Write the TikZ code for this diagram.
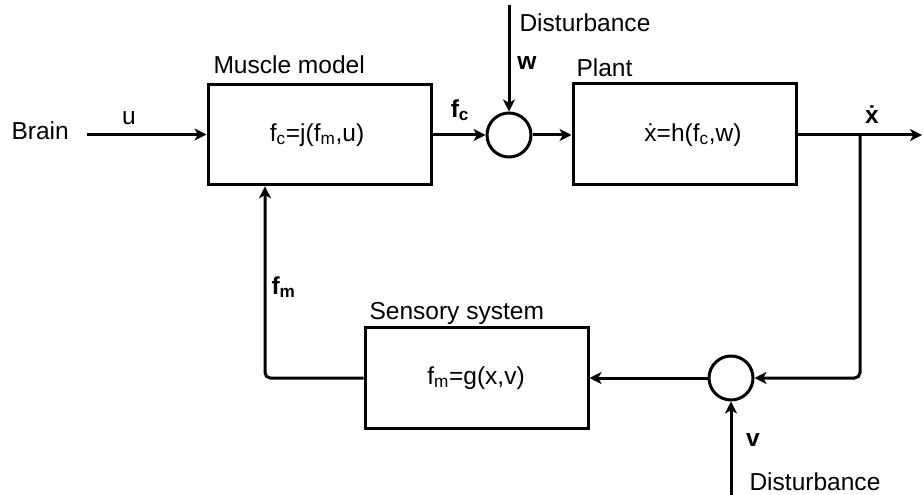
\documentclass[tikz,border=0pt]{standalone}
\usepackage{fontspec}
\setmainfont{Liberation Sans}
\usetikzlibrary{arrows.meta}
\begin{document}
\begin{tikzpicture}[x=0.75pt,y=-0.75pt,
  font=\fontsize{18.4}{22}\selectfont,
  line width=2.25pt,
  blk/.style={draw,line width=2.25pt,minimum width=167.25pt,minimum height=75.5pt,inner sep=0pt},
  sumc/.style={draw,circle,line width=2.25pt,minimum size=33pt,inner sep=0pt},
  lbl/.style={inner sep=0pt},
  arr/.style={-{Stealth[length=9pt,width=9pt,inset=2.5pt]},line width=2.25pt},
  conn/.style={line width=2.25pt,rounded corners=4pt}]
\useasboundingbox (0,0) rectangle (923,495);
% blocks
\node[blk] (muscle) at (319.5,134.5) {};
\node[lbl] (mtext) at (317,135) {f\textsubscript{c}=j(f\textsubscript{m},u)};
\node[blk] (plant) at (684.5,134) {};
\node[lbl] (ptext) at (693,135) {\.{x}=h(f\textsubscript{c},w)};
\node[blk] (sensory) at (476.5,378) {};
\node[lbl] (stext) at (476,378) {f\textsubscript{m}=g(x,v)};
\node[sumc] (sum1) at (509,135) {};
\node[sumc] (sum2) at (731,378) {};
% titles
\node[lbl,anchor=west] (mtitle) at (212,65) {Muscle model};
\node[lbl,anchor=west] (ptitle) at (575,68) {Plant};
\node[lbl,anchor=west] (stitle) at (368,313) {Sensory system};
\node[lbl,anchor=west] (brain) at (10,131) {Brain};
\node[lbl,anchor=west] (dtoptext) at (518,23) {Disturbance};
\node[lbl,anchor=west] (dbottext) at (748,482) {Disturbance};
% signal labels
\node[lbl] (ulbl) at (129,118) {u};
\node[lbl] (fclbl) at (460,110) {\textbf{f\textsubscript{c}}};
\node[lbl] (wlbl) at (527,63) {\textbf{w}};
\node[lbl] (xlbl) at (872,115) {\textbf{\.{x}}};
\node[lbl,anchor=west] (fmlbl) at (270,287) {\textbf{f\textsubscript{m}}};
\node[lbl] (vlbl) at (753,440) {\textbf{v}};
% free ends
\coordinate (uin) at (87,134.5);
\coordinate (dtop) at (509,5);
\coordinate (dbot) at (731,495);
\coordinate (out) at (922,135);
\coordinate (branch) at (860,135);
\coordinate (fbx) at (265,378);
% connectors
\draw[arr] (uin) -- (muscle.west |- uin);
\draw[arr] (muscle.east |- sum1) -- (sum1.west);
\draw[arr] (dtop) -- (sum1.north);
\draw[arr] (sum1.east) -- (plant.west |- sum1);
\draw[arr] (plant.east |- out) -- (out);
\draw[arr,conn] (branch) |- (sum2.east);
\draw[arr] (sum2.west) -- (sensory.east);
\draw[arr] (dbot) -- (sum2.south);
\draw[arr,conn] (sensory.west) -| (muscle.south -| fbx);
\end{tikzpicture}
\end{document}
